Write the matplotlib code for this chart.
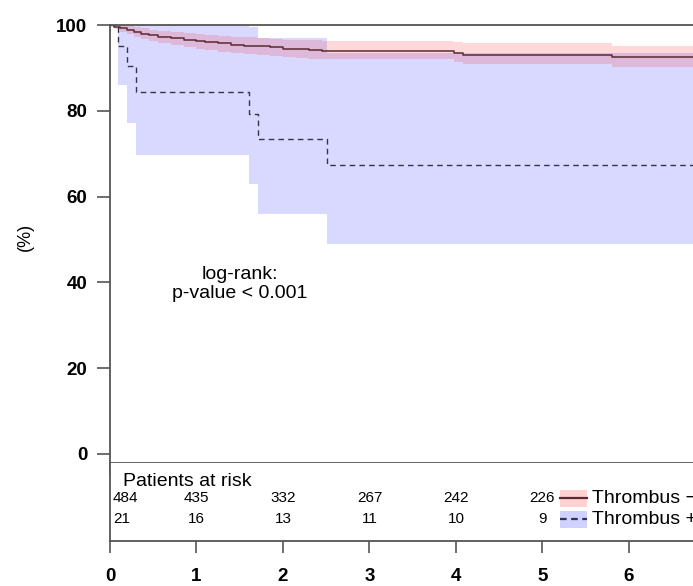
import matplotlib
matplotlib.use("Agg")
import matplotlib.pyplot as plt
from matplotlib.patches import Rectangle
from matplotlib.lines import Line2D

plt.rcParams['font.family'] = ['Liberation Sans', 'DejaVu Sans']

# Kaplan-Meier curves (time in years, survival in %)
# Thrombus - (solid line, pink band)
t_neg = [0, 0.05, 0.12, 0.2, 0.28, 0.36, 0.45, 0.55, 0.7, 0.85, 1.0, 1.1,
         1.25, 1.4, 1.55, 1.7, 1.85, 2.0, 2.15, 2.3, 2.45, 3.98, 4.08, 5.8, 7.0]
s_neg = [100, 99.6, 99.3, 98.9, 98.4, 98.0, 97.6, 97.2, 96.9, 96.6, 96.3, 96.0,
         95.7, 95.4, 95.2, 95.0, 94.8, 94.5, 94.3, 94.1, 93.9, 93.5, 93.0, 92.5, 92.5]
hi_neg = [100, 100, 100, 99.8, 99.5, 99.2, 98.9, 98.6, 98.4, 98.2, 98.0, 97.7,
          97.5, 97.3, 97.1, 96.9, 96.8, 96.6, 96.5, 96.4, 96.3, 96.0, 95.7, 95.2, 95.2]
lo_neg = [100, 99.0, 98.4, 97.8, 97.2, 96.7, 96.2, 95.7, 95.3, 94.9, 94.5, 94.2,
          93.8, 93.5, 93.2, 93.0, 92.8, 92.5, 92.3, 92.1, 92.0, 91.4, 90.9, 90.3, 90.3]

# Thrombus + (dashed line, blue band)
t_pos = [0, 0.09, 0.2, 0.3, 1.61, 1.71, 2.51, 7.0]
s_pos = [100, 95.2, 90.5, 84.4, 79.2, 73.5, 67.4, 67.4]
hi_pos = [100, 100, 100, 100, 99.5, 96.9, 93.4, 93.4]
lo_pos = [100, 86.0, 77.2, 69.7, 62.9, 55.9, 49.0, 49.0]

# patients at risk
risk_times = [0, 1, 2, 3, 4, 5]
risk_neg = [484, 435, 332, 267, 242, 226]
risk_pos = [21, 16, 13, 11, 10, 9]

group_labels = ['Thrombus \u2212', 'Thrombus +']

x_max = 6.74
spine_col = '#555555'

fig = plt.figure(figsize=(6.93, 5.86), dpi=100)
ax = fig.add_axes([0.1587, 0.2099, 0.8413, 0.7474])
ax2 = fig.add_axes([0.1587, 0.0768, 0.8413, 0.1331])

# confidence bands
ax.fill_between(t_pos, lo_pos, hi_pos, step='post', color='#0000ff', alpha=0.15, lw=0)
ax.fill_between(t_neg, lo_neg, hi_neg, step='post', color='#ff0000', alpha=0.15, lw=0)

# survival curves
ax.step(t_neg, s_neg, where='post', color='#5a2a30', lw=1.1)
ax.step(t_pos, s_pos, where='post', color='#33334d', lw=1.0, ls=(0, (4, 3)))

ax.text(1.5, 39.6, 'log-rank:\np-value < 0.001', ha='center', va='center',
        fontsize=14, multialignment='center', linespacing=1.1)

ax.set_xlim(0, x_max)
ax.set_ylim(-2.1, 100)
ax.set_yticks([0, 20, 40, 60, 80, 100])
ax.set_xticks(range(0, 7))
ax.tick_params(axis='y', direction='out', length=9.4, width=1.2, color=spine_col,
               labelsize=13.5, pad=7)
ax.tick_params(axis='x', direction='out', length=8.6, width=1.2, color=spine_col,
               labelbottom=False)
for lab in ax.get_yticklabels():
    lab.set_fontweight('bold')
ax.spines['right'].set_visible(False)
for s in ['left', 'top', 'bottom']:
    ax.spines[s].set_color(spine_col)
    ax.spines[s].set_linewidth(1.3)

# risk table
ax2.set_xlim(0, x_max)
ax2.set_ylim(0, 1)
ax2.set_yticks([])
ax2.set_xticks(range(0, 7))
ax2.tick_params(axis='x', direction='out', length=8.6, width=1.2, color=spine_col,
                labelsize=13.5, pad=11)
for lab in ax2.get_xticklabels():
    lab.set_fontweight('bold')
ax2.spines['right'].set_visible(False)
ax2.spines['top'].set_visible(False)
for s in ['left', 'bottom']:
    ax2.spines[s].set_color(spine_col)
    ax2.spines[s].set_linewidth(1.3)

ax2.text(0.15, 0.76, 'Patients at risk', ha='left', va='center', fontsize=14)
for t, n1, n2 in zip(risk_times, risk_neg, risk_pos):
    ha = 'left' if t == 0 else 'center'
    xt = 0.035 if t == 0 else t
    ax2.text(xt, 0.55, str(n1), ha=ha, va='center', fontsize=11)
    ax2.text(xt, 0.28, str(n2), ha=ha, va='center', fontsize=11)

# legend drawn into the risk table
leg_x0, leg_x1 = 5.2, 5.51
for yy, fc, lc, ls, lab in [(0.55, '#ff0000', '#5a2a30', '-', group_labels[0]),
                            (0.28, '#0000ff', '#33334d', (0, (3, 2)), group_labels[1])]:
    ax2.add_patch(Rectangle((leg_x0, yy - 0.11), leg_x1 - leg_x0, 0.22,
                            facecolor=fc, alpha=0.18, lw=0))
    ax2.add_line(Line2D([leg_x0, leg_x1], [yy, yy], color=lc, lw=1.6, ls=ls))
    ax2.text(5.57, yy, lab, ha='left', va='center', fontsize=14)

fig.text(0.036, 0.595, '(%)', rotation=90, ha='center', va='center', fontsize=13)

fig.savefig('out.png', dpi=100)
